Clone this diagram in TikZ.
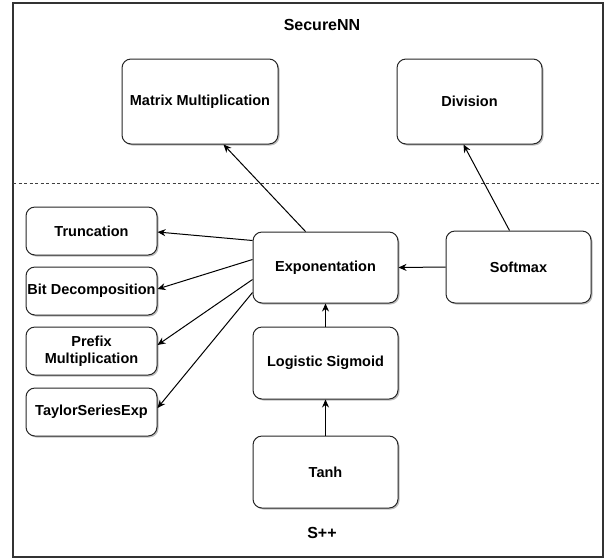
\documentclass[tikz,border=0pt]{standalone}
\usepackage{fontspec}
\setmainfont{Liberation Sans}
\usetikzlibrary{arrows.meta,calc,shadows}
\begin{document}
\begin{tikzpicture}[x=1pt,y=-1pt,
  box/.style={draw=black!85,line width=1pt,rounded corners=9pt,fill=white,
    font=\bfseries\fontsize{14.5}{16.5}\selectfont,align=center,inner sep=0pt,
    drop shadow={shadow xshift=1.5pt,shadow yshift=-1.5pt,opacity=0.25,fill=black}},
  title/.style={font=\bfseries\fontsize{16}{18}\selectfont},
  conn/.style={line width=1pt,-{Stealth[length=8pt,width=7pt]}}]
\useasboundingbox (0,0) rectangle (612,558);
\fill[white] (0,0) rectangle (612,558);
\draw[black!80,line width=1.2pt] (13,3) rectangle (603,557);
\draw[black!75,line width=0.9pt,dash pattern=on 3pt off 2.5pt] (13,183) -- (603,183);
\node[title] (tsec) at (322,25) {SecureNN};
\node[title] (tspp) at (322,533) {S++};
\node[box,minimum width=156pt,minimum height=85pt] (mm) at (200,101.5) {Matrix Multiplication};
\node[box,minimum width=145pt,minimum height=85pt] (div) at (469.5,101.5) {Division};
\node[box,minimum width=145pt,minimum height=71pt] (exp) at (325.5,267.5) {Exponentation};
\node[box,minimum width=145pt,minimum height=72pt] (soft) at (518.5,267) {Softmax};
\node[box,minimum width=145pt,minimum height=72pt] (log) at (325.5,363) {Logistic Sigmoid};
\node[box,minimum width=145pt,minimum height=72pt] (tanh) at (325.5,472) {Tanh};
\node[box,minimum width=131pt,minimum height=48pt] (trunc) at (91.5,231) {Truncation};
\node[box,minimum width=131pt,minimum height=48pt] (bit) at (91.5,291) {Bit Decomposition};
\node[box,minimum width=131pt,minimum height=48pt] (pre) at (91.5,351) {Prefix\\Multiplication};
\node[box,minimum width=131pt,minimum height=48pt] (tay) at (91.5,412) {TaylorSeriesExp};
\draw[conn] ($(exp.north west)+(53,0)$) -- ($(mm.south west)+(102,0)$);
\draw[conn] ($(soft.north west)+(64,0)$) -- ($(div.south west)+(67,0)$);
\draw[conn] (soft.west) -- (exp.east);
\draw[conn] (log.north) -- (exp.south);
\draw[conn] (tanh.north) -- (log.north |- log.south);
\draw[conn] ($(exp.north west)+(0,9)$) -- ($(trunc.east)+(0,1)$);
\draw[conn] ($(exp.north west)+(0,28)$) -- ($(bit.east)+(0,-2)$);
\draw[conn] ($(exp.north west)+(0,48)$) -- ($(pre.east)+(0,-6)$);
\draw[conn] ($(exp.north west)+(0,61)$) -- ($(tay.east)+(0,-4)$);
\end{tikzpicture}
\end{document}
